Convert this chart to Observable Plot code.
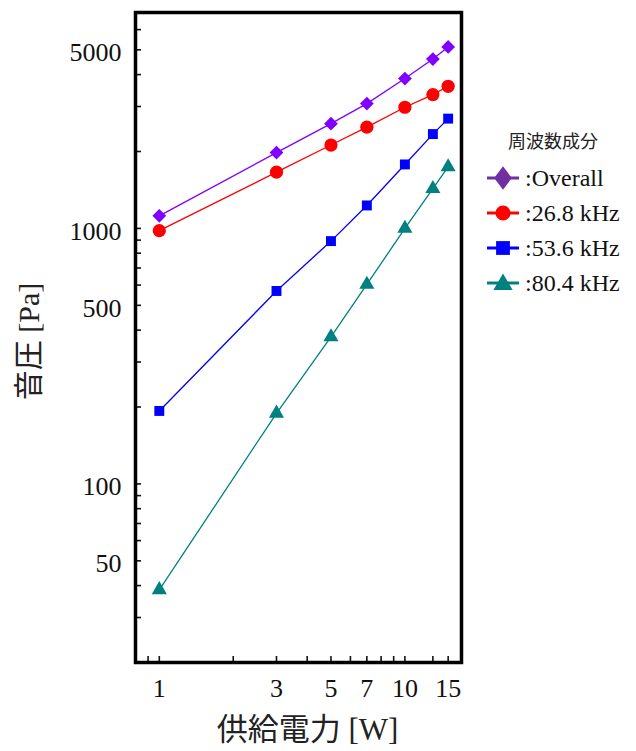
<!DOCTYPE html>
<html>
<head>
<meta charset="utf-8">
<script src="https://cdn.jsdelivr.net/npm/d3@7"></script>
<script src="https://cdn.jsdelivr.net/npm/@observablehq/plot@0.6"></script>
<style>
  body { margin: 0; background: #fff; }
  #wrap { position: relative; width: 636px; height: 751px; }
  #legend { position: absolute; left: 0; top: 0; width: 636px; height: 751px; pointer-events: none; }
  .lg-title { position: absolute; left: 493px; top: 127px; width: 120px; text-align: center;
              font-family: "Noto Sans CJK JP", sans-serif; font-size: 18px; line-height: 26px; color: #222; }
  .lg-row { position: absolute; left: 485px; height: 34px; display: flex; align-items: center; }
  .lg-row svg { display: block; }
  .lg-row span { margin-left: 2px; font-family: "Liberation Serif", serif; font-size: 24px; line-height: 34px; color: #111; }
</style>
</head>
<body>
<div id="wrap"><div id="legend"></div></div>
<script>
// Supplied power [W]
const powerW = [1, 3, 5, 7, 10, 13, 15];

// Sound pressure [Pa] per frequency component
const overall = [1120, 1980, 2570, 3080, 3860, 4600, 5130];
const f26k8 = [980, 1660, 2120, 2490, 2980, 3340, 3600];
const f53k6 = [193, 569, 892, 1230, 1780, 2340, 2690];
const f80k4 = [38.5, 189, 376, 604, 1000, 1430, 1740];

const seriesNames = [":Overall", ":26.8 kHz", ":53.6 kHz", ":80.4 kHz"];
const seriesValues = [overall, f26k8, f53k6, f80k4];
const seriesColors = ["#8000ff", "#ff0000", "#0000ff", "#008080"];
const legendColors = ["#7030a0", "#ff0000", "#0000ff", "#008080"];
const seriesSymbols = ["diamond2", "circle", "square", "triangle"];
const seriesRadius = [6.2, 6.6, 5.6, 5.6];

// Axis ticks
const xTicks = [0.9, 1, 2, 3, 4, 5, 6, 7, 8, 9, 10, 13, 15];
const xTickLabels = [1, 3, 5, 7, 10, 15];
const yTicks = [30, 40, 50, 60, 70, 80, 90, 100, 200, 300, 400, 500, 600, 700, 800, 900,
                1000, 2000, 3000, 4000, 5000, 6000];
const yTickLabels = [50, 100, 500, 1000, 5000];

const xTitle = "供給電力 [W]";
const yTitle = "音圧 [Pa]";
const legendTitle = "周波数成分";

const serif = "Liberation Serif, 'Noto Sans CJK JP', serif";

const series = seriesNames.map((name, i) => ({
  name,
  color: seriesColors[i],
  symbol: seriesSymbols[i],
  r: seriesRadius[i],
  rows: powerW.map((p, j) => ({power: p, pressure: seriesValues[i][j]}))
}));

const marks = [];
for (const s of series) {
  marks.push(Plot.line(s.rows, {x: "power", y: "pressure", stroke: s.color, strokeWidth: 1.3}));
}
for (const s of series) {
  marks.push(Plot.dot(s.rows, {x: "power", y: "pressure", symbol: s.symbol, fill: s.color, stroke: "none", r: s.r}));
}

const chart = Plot.plot({
  width: 636,
  height: 751,
  marginLeft: 135,
  marginRight: 175,
  marginTop: 12,
  marginBottom: 89,
  style: {fontFamily: serif, background: "#fff", color: "#111"},
  x: {type: "log", domain: [0.8, 17], label: null},
  y: {type: "log", domain: [20, 7000], label: null},
  marks: [
    // inward ticks
    Plot.axisY({ticks: yTicks, tickSize: -6, tickFormat: () => "", label: null, strokeWidth: 1.6, stroke: "#111"}),
    Plot.axisX({ticks: xTicks, tickSize: -6, tickFormat: () => "", label: null, strokeWidth: 1.6, stroke: "#111"}),
    // tick labels
    Plot.text(yTickLabels, {y: d => d, frameAnchor: "left", dx: -14, dy: 3, textAnchor: "end",
                            text: d => String(d), fontSize: 26, fontFamily: serif, fill: "#111"}),
    Plot.text(xTickLabels, {x: d => d, frameAnchor: "bottom", dy: 26, lineAnchor: "middle",
                            text: d => String(d), fontSize: 26, fontFamily: serif, fill: "#111"}),
    ...marks,
    Plot.frame({stroke: "#000", strokeWidth: 3.5}),
    // axis titles
    Plot.text([xTitle], {frameAnchor: "bottom", dx: 9, dy: 68, text: d => d, fontSize: 31,
                         fontFamily: serif, fill: "#222", lineAnchor: "middle", textAnchor: "middle"}),
    Plot.text([yTitle], {frameAnchor: "left", dx: -106, dy: 4, rotate: -90, text: d => d, fontSize: 30,
                         fontFamily: serif, fill: "#222", lineAnchor: "middle", textAnchor: "middle"})
  ]
});
document.getElementById("wrap").prepend(chart);

// Legend
const legend = document.getElementById("legend");
const title = document.createElement("div");
title.className = "lg-title";
title.textContent = legendTitle;
legend.appendChild(title);

const legendShapes = [
  d3.symbol(d3.symbolDiamond, 160)(),
  d3.symbol(d3.symbolCircle, 180)(),
  d3.symbol(d3.symbolSquare, 190)(),
  d3.symbol(d3.symbolTriangle, 160)()
];
seriesNames.forEach((name, i) => {
  const row = document.createElement("div");
  row.className = "lg-row";
  row.style.top = (161 + i * 35) + "px";
  const svg = d3.create("svg").attr("width", 38).attr("height", 34);
  svg.append("line").attr("x1", 2).attr("x2", 34).attr("y1", 17).attr("y2", 17)
    .attr("stroke", legendColors[i]).attr("stroke-width", 3);
  svg.append("path").attr("d", legendShapes[i])
    .attr("transform", i === 0 ? "translate(18,17) scale(1.3,1)" : (i === 3 ? "translate(18,18.5)" : "translate(18,17)"))
    .attr("fill", legendColors[i]);
  row.appendChild(svg.node());
  const label = document.createElement("span");
  label.textContent = name;
  row.appendChild(label);
  legend.appendChild(row);
});
</script>
</body>
</html>
